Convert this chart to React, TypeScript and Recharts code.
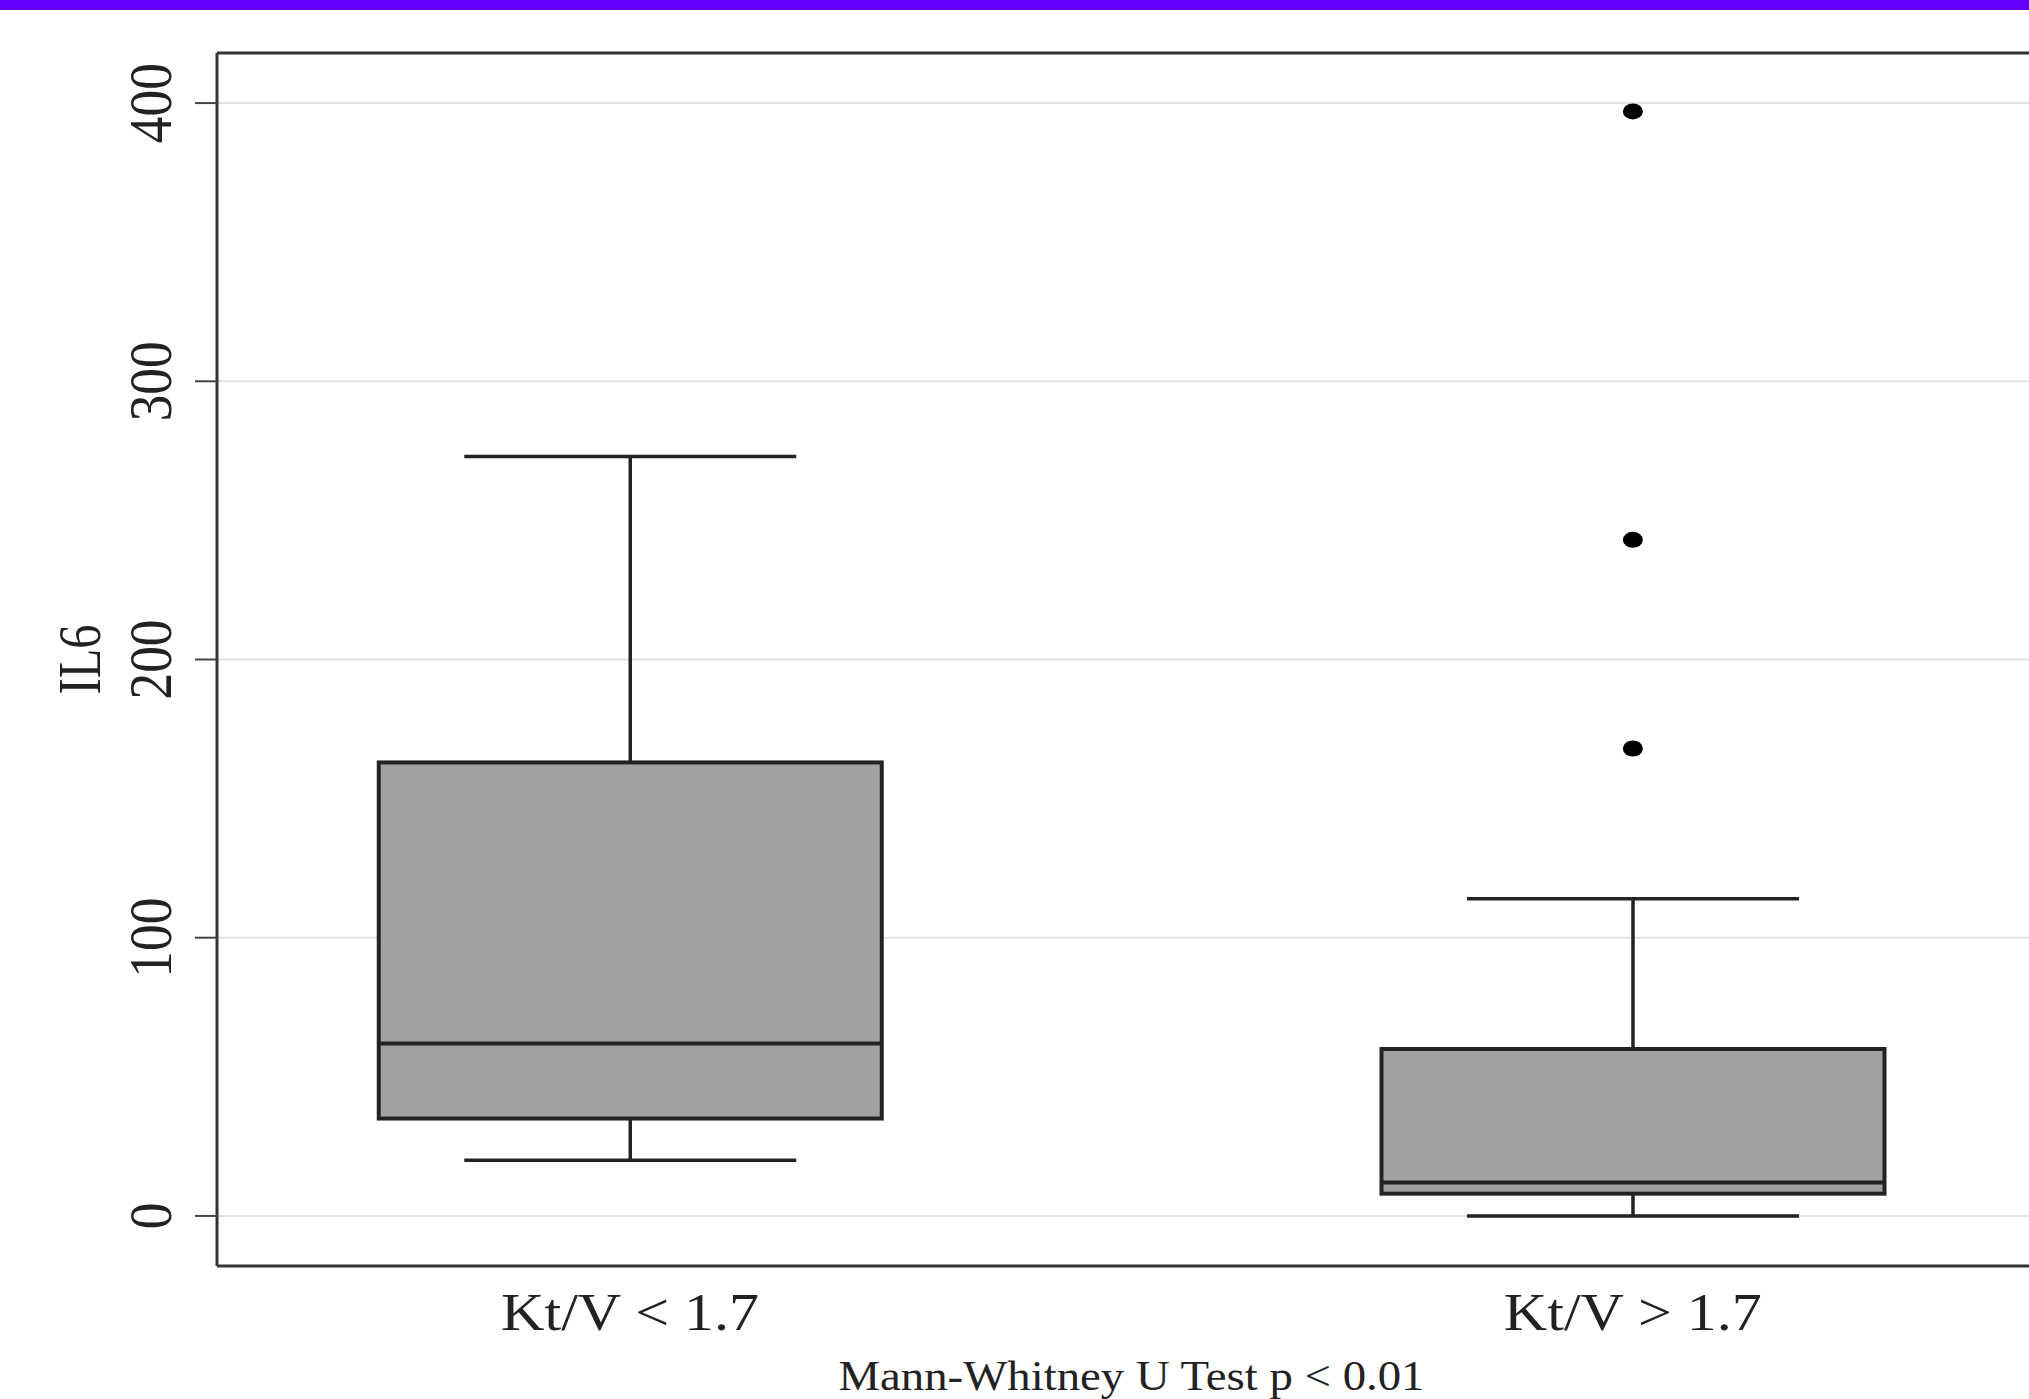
import {
  ComposedChart,
  Bar,
  Scatter,
  XAxis,
  YAxis,
  CartesianGrid,
  ReferenceLine,
} from "recharts"

// box plot summary per group (IL6)
const groups = ["Kt/V < 1.7", "Kt/V > 1.7"]
const positions = [1, 2]
const whiskerLow = [20, 0]
const q1 = [35, 8]
const medians = [62, 12]
const q3 = [163, 60]
const whiskerHigh = [273, 114]

// outside values
const outlierPos = [2, 2, 2]
const outlierValues = [397, 243, 168]

const yTicks = [0, 100, 200, 300, 400]
const yLabel = "IL6"
const note = "Mann-Whitney U Test p < 0.01"

const boxData = positions.map((x, i) => ({
  x,
  name: groups[i],
  range: [whiskerLow[i], whiskerHigh[i]],
  low: whiskerLow[i],
  q1: q1[i],
  median: medians[i],
  q3: q3[i],
  high: whiskerHigh[i],
}))

const outliers = outlierPos.map((x, i) => ({ x, y: outlierValues[i] }))

const INK = "#232323"
const SERIF = "'Liberation Serif', 'DejaVu Serif', serif"

function BoxShape(props: any) {
  const { x, y, width, height, payload } = props
  const top = Math.min(y, y + height)
  const bottom = Math.max(y, y + height)
  const { low, high } = payload
  // linear scale, so interpolate between the whisker ends
  const py = (v: number) => bottom - ((v - low) / (high - low)) * (bottom - top)
  const cx = x + width / 2
  const cap = width * 0.33
  return (
    <g>
      <line x1={cx} x2={cx} y1={py(high)} y2={py(payload.q3)} stroke={INK} strokeWidth={3.5} />
      <line x1={cx} x2={cx} y1={py(payload.q1)} y2={py(low)} stroke={INK} strokeWidth={3.5} />
      <line x1={cx - cap} x2={cx + cap} y1={py(high)} y2={py(high)} stroke={INK} strokeWidth={3.5} />
      <line x1={cx - cap} x2={cx + cap} y1={py(low)} y2={py(low)} stroke={INK} strokeWidth={3.5} />
      <rect
        x={x}
        y={py(payload.q3)}
        width={width}
        height={py(payload.q1) - py(payload.q3)}
        fill="#a1a1a1"
        stroke={INK}
        strokeWidth={4}
      />
      <line x1={x} x2={x + width} y1={py(payload.median)} y2={py(payload.median)} stroke={INK} strokeWidth={4} />
    </g>
  )
}

function Dot(props: any) {
  const { cx, cy } = props
  return <ellipse cx={cx} cy={cy} rx={10} ry={8} fill="#000" />
}

function YTick(props: any) {
  const { x, y, payload } = props
  const label = String(payload.value)
  const tx = x - 20
  return (
    <text
      x={tx}
      y={y}
      transform={`rotate(-90 ${tx} ${y})`}
      textAnchor="middle"
      textLength={label.length * 26.7}
      lengthAdjust="spacingAndGlyphs"
      fontFamily={SERIF}
      fontSize={62}
      fill="#222"
    >
      {label}
    </text>
  )
}

function XTick(props: any) {
  const { x, y, payload } = props
  const idx = positions.indexOf(payload.value)
  return (
    <text
      x={x}
      y={y + 58}
      textAnchor="middle"
      textLength={258}
      lengthAdjust="spacingAndGlyphs"
      fontFamily={SERIF}
      fontSize={53}
      fill="#222"
    >
      {groups[idx]}
    </text>
  )
}

export default function App() {
  return (
    <div
      style={{
        position: "absolute",
        left: 0,
        top: 0,
        width: 2029,
        height: 1399,
        overflow: "hidden",
        background: "#fff",
      }}
    >
      <div style={{ position: "absolute", left: 0, top: 0, width: 2029, height: 10, background: "#6600ff" }} />
      <ComposedChart
        width={2060}
        height={1399}
        data={boxData}
        margin={{ top: 53, right: 14, bottom: 0, left: 0 }}
      >
        <CartesianGrid horizontal vertical={false} stroke="#e2e2e2" strokeWidth={2} />
        <XAxis
          dataKey="x"
          type="number"
          domain={[0.588, 2.412]}
          ticks={positions}
          allowDataOverflow
          height={133}
          tickLine={false}
          axisLine={{ stroke: "#333", strokeWidth: 3 }}
          tick={<XTick />}
          tickMargin={0}
          label={{
            content: ({ viewBox }: any) => (
              <text
                x={viewBox.x + viewBox.width / 2}
                y={1390}
                textAnchor="middle"
                textLength={586}
                lengthAdjust="spacingAndGlyphs"
                fontFamily={SERIF}
                fontSize={42}
                fill="#222"
              >
                {note}
              </text>
            ),
          }}
        />
        <YAxis
          type="number"
          domain={[-18, 418]}
          ticks={yTicks}
          allowDataOverflow
          width={217}
          tickSize={22}
          tickLine={{ stroke: "#444", strokeWidth: 2 }}
          axisLine={{ stroke: "#333", strokeWidth: 3 }}
          tick={<YTick />}
          tickMargin={4}
          label={{
            content: ({ viewBox }: any) => {
              const lx = viewBox.x + 100
              const ly = viewBox.y + viewBox.height / 2
              return (
                <text
                  x={lx}
                  y={ly}
                  transform={`rotate(-90 ${lx} ${ly})`}
                  textAnchor="middle"
                  textLength={70}
                  lengthAdjust="spacingAndGlyphs"
                  fontFamily={SERIF}
                  fontSize={62}
                  fill="#222"
                >
                  {yLabel}
                </text>
              )
            },
          }}
        />
        <ReferenceLine y={418} stroke="#333" strokeWidth={3} />
        <Bar dataKey="range" barSize={503} shape={<BoxShape />} isAnimationActive={false} />
        <Scatter data={outliers} dataKey="y" shape={<Dot />} isAnimationActive={false} />
      </ComposedChart>
    </div>
  )
}
